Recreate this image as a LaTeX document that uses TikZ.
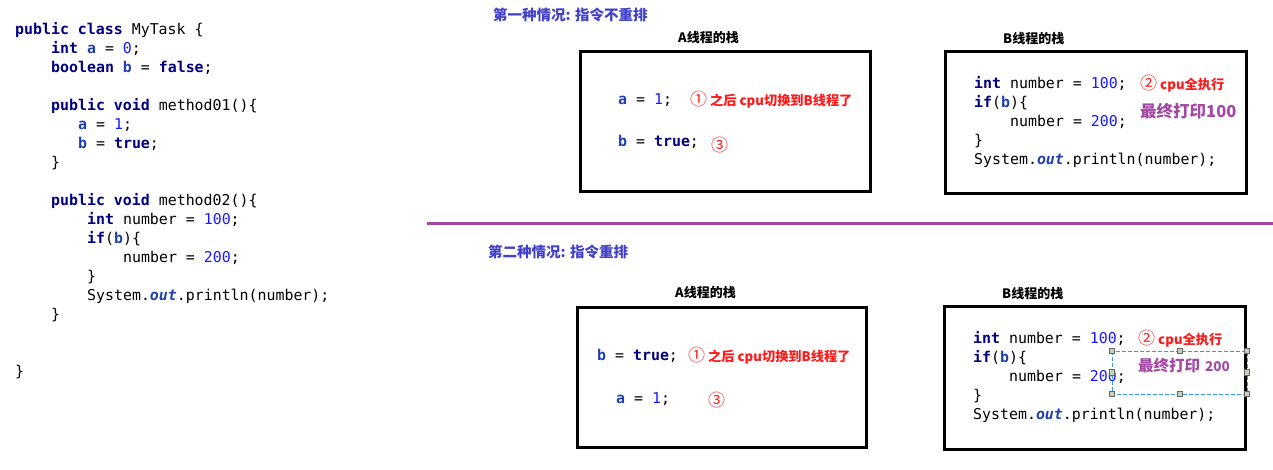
\documentclass[tikz,border=0pt]{standalone}
\usepackage{fontspec}
\setmonofont{DejaVu Sans Mono}
\newfontfamily\cjk{Noto Sans CJK SC}
\definecolor{kwc}{HTML}{000080}
\definecolor{fldc}{HTML}{2040B0}
\definecolor{numc}{HTML}{1A1AFF}
\definecolor{ttlblue}{HTML}{4040C8}
\definecolor{redc}{HTML}{FF1A1A}
\definecolor{purp}{HTML}{A349A4}
\definecolor{selblue}{HTML}{3399EE}
\definecolor{hfill}{HTML}{C4D4BC}
\newcommand\kw[1]{\textcolor{kwc}{\textbf{#1}}}
\newcommand\fld[1]{\textcolor{fldc}{\textbf{#1}}}
\newcommand\nm[1]{\textcolor{numc}{#1}}
\newcommand\sfld[1]{\textcolor{fldc}{\textbf{\textit{#1}}}}
\newcommand\circd[1]{{\mdseries\fontsize{17}{17}\selectfont #1}}
\newcommand\mycodefont{\ttfamily\fontsize{14.9}{19}\selectfont}
\tikzset{
  code/.style={font=\mycodefont, anchor=base west, inner sep=0pt},
  caseTitle/.style={font=\cjk\bfseries\fontsize{14.5}{16}\selectfont, text=ttlblue, anchor=west, inner sep=0pt},
  stackTitle/.style={font=\cjk\bfseries\fontsize{13}{15}\selectfont, text=black, anchor=west, inner sep=0pt},
  note/.style={font=\cjk\bfseries\fontsize{13.2}{15}\selectfont, text=redc, anchor=west, inner sep=0pt},
  result/.style={font=\cjk\bfseries\fontsize{16.5}{18}\selectfont, text=purp, anchor=west, inner sep=0pt},
  stackbox/.style={draw=black, line width=3pt, inner sep=0pt},
  handle/.style={draw=black!60, fill=hfill, line width=0.6pt, minimum size=5.5pt, inner sep=0pt}
}
\begin{document}
\begin{tikzpicture}[x=1pt,y=-1pt]
\useasboundingbox (0,0) rectangle (1273,470);
\fill[white] (0,0) rectangle (1273,470);

% ---------------- left source code ----------------
\node[code] (l1)  at (15,34.5)  {\kw{public} \kw{class} MyTask \{};
\node[code] (l2)  at (51,53.5)  {\kw{int} \fld{a} = \nm{0};};
\node[code] (l3)  at (51,72.5)  {\kw{boolean} \fld{b} = \kw{false};};
\node[code] (l5)  at (51,110.5) {\kw{public} \kw{void} method01()\{};
\node[code] (l6)  at (78,129.5) {\fld{a} = \nm{1};};
\node[code] (l7)  at (78,148.5) {\fld{b} = \kw{true};};
\node[code] (l8)  at (51,167.5) {\}};
\node[code] (l10) at (51,205.5) {\kw{public} \kw{void} method02()\{};
\node[code] (l11) at (87,224.5) {\kw{int} number = \nm{100};};
\node[code] (l12) at (87,243.5) {\kw{if}(\fld{b})\{};
\node[code] (l13) at (123,262.5) {number = \nm{200};};
\node[code] (l14) at (87,281.5) {\}};
\node[code] (l15) at (87,300.5) {System.\sfld{out}.println(number);};
\node[code] (l16) at (51,319.5) {\}};
\node[code] (l19) at (15,376.5) {\}};

% ---------------- case 1 ----------------
\node[caseTitle] (t1) at (493,15) {第一种情况: 指令不重排};
\node[stackTitle] (sa1) at (678,38) {A线程的栈};
\node[stackTitle] (sb1) at (1003,39) {B线程的栈};
\node[stackbox, minimum width=290, minimum height=140.5] (boxA1) at (725,121.75) {};
\node[stackbox, minimum width=301.4, minimum height=142] (boxB1) at (1096,122.3) {};

\node[code] (a1a) at (618,105) {\fld{a} = \nm{1};};
\node[code] (a1b) at (618,146.5) {\fld{b} = \kw{true};};
\node[note] (n1a) at (690,100) {\circd{①} 之后 cpu切换到B线程了};
\node[note] (n1c) at (711,145) {\circd{③}};

\node[code] (b1a) at (974,88.5) {\kw{int} number = \nm{100};};
\node[code] (b1b) at (974,107.5) {\kw{if}(\fld{b})\{};
\node[code] (b1c) at (1010,126.5) {number = \nm{200};};
\node[code] (b1d) at (974,145.5) {\}};
\node[code] (b1e) at (974,164.5) {System.\sfld{out}.println(number);};
\node[note] (n1b) at (1140,84) {\circd{②} cpu全执行};
\node[result] (r1) at (1140,111) {最终打印100};

% ---------------- separator ----------------
\coordinate (sepL) at (427,223.3);
\coordinate (sepR) at (1273,223.3);
\draw[purp, line width=3pt] (sepL) -- (sepR);

% ---------------- case 2 ----------------
\node[caseTitle] (t2) at (488,252) {第二种情况: 指令重排};
\node[stackTitle] (sa2) at (675,293) {A线程的栈};
\node[stackTitle] (sb2) at (1002,294) {B线程的栈};
\node[stackbox, minimum width=289, minimum height=140] (boxA2) at (722.2,377.3) {};
\node[stackbox, minimum width=301, minimum height=142.6] (boxB2) at (1094.5,378) {};

\node[code] (a2a) at (597,360) {\fld{b} = \kw{true};};
\node[code] (a2b) at (616,403) {\fld{a} = \nm{1};};
\node[note] (n2a) at (688,356) {\circd{①} 之后 cpu切换到B线程了};
\node[note] (n2c) at (708,400) {\circd{③}};

\node[code] (b2a) at (973,343.3) {\kw{int} number = \nm{100};};
\node[code] (b2b) at (973,362.3) {\kw{if}(\fld{b})\{};
\node[code] (b2c) at (1009,381.3) {number = \nm{200};};
\node[code] (b2d) at (973,400.3) {\}};
\node[code] (b2e) at (973,419.3) {System.\sfld{out}.println(number);};
\node[note] (n2b) at (1138,339) {\circd{②} cpu全执行};

% selection frame
\draw[selblue, line width=0.9pt, dash pattern=on 4pt off 2pt] (1112,351) rectangle (1247,394);
\node[result, font=\cjk\bfseries\fontsize{15.5}{18}\selectfont] (r2) at (1138,366) {最终打印\hspace{5pt}{\fontsize{13.5}{16}\selectfont 200}};
\node[handle] (h1) at (1112,351) {};
\node[handle] (h2) at (1180,351) {};
\node[handle] (h3) at (1247,351) {};
\node[handle] (h4) at (1112,372.5) {};
\node[handle] (h5) at (1247,372.5) {};
\node[handle] (h6) at (1112,394) {};
\node[handle] (h7) at (1180,394) {};
\node[handle] (h8) at (1247,394) {};
\end{tikzpicture}
\end{document}
